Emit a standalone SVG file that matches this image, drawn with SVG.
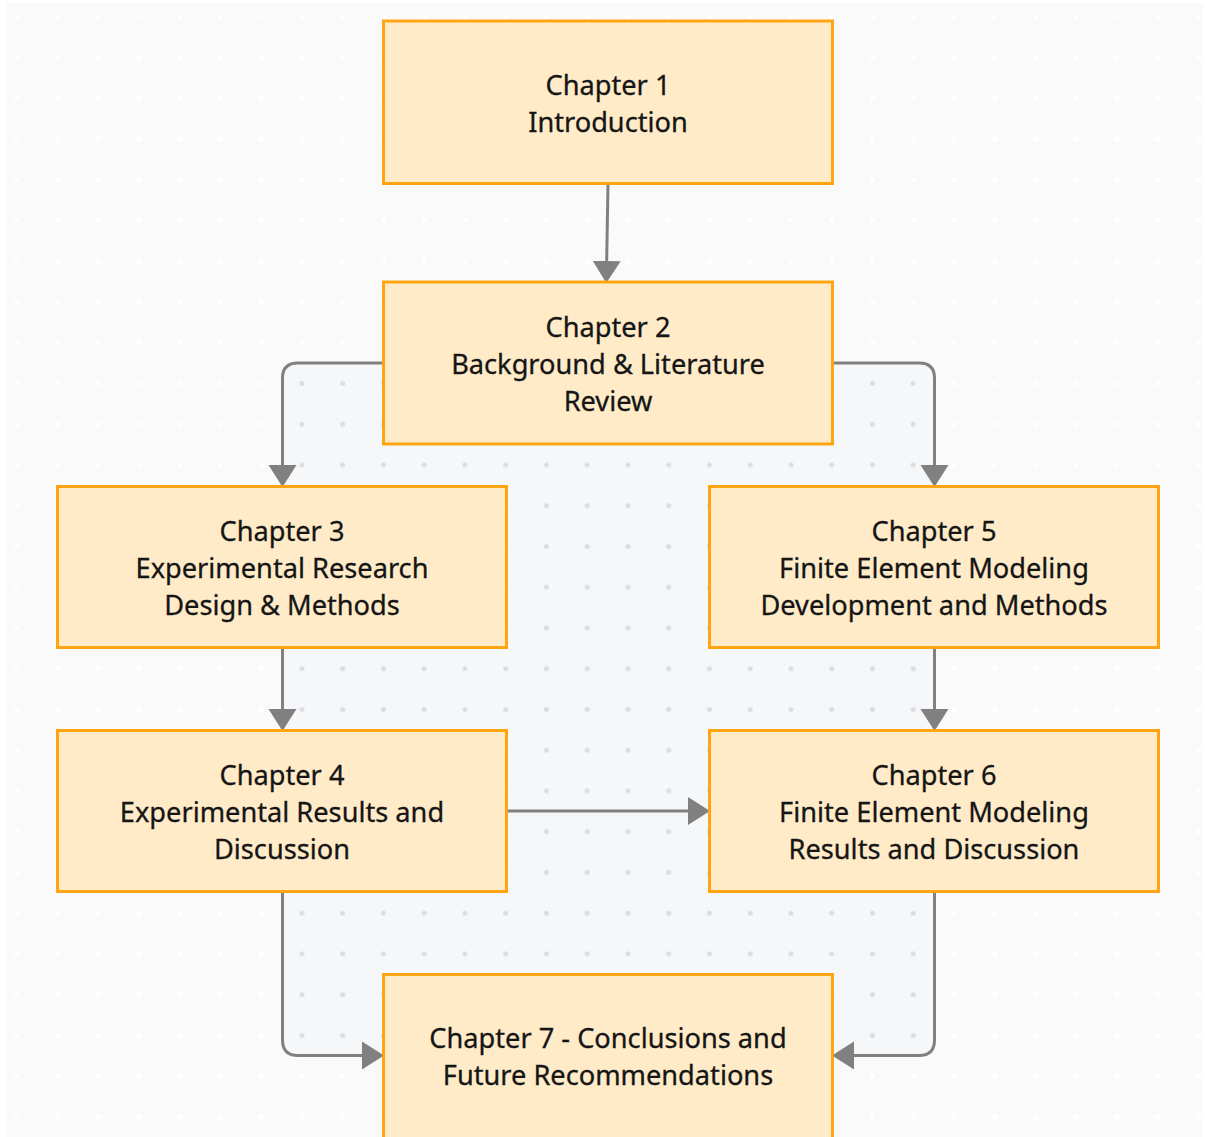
<svg xmlns="http://www.w3.org/2000/svg" width="1206" height="1137" viewBox="0 0 1206 1137">
<defs>
<style>
.node rect{fill:#ffebc8;stroke:#ffa514;stroke-width:3}
.node text{font-family:"Noto Sans","Open Sans",sans-serif;font-size:27.2px;fill:#151515;stroke:#151515;stroke-width:0.3;text-anchor:middle}
.edge{fill:none;stroke:#808080;stroke-width:3;marker-end:url(#arrow)}
</style>
<pattern id="dotsOuter" patternUnits="userSpaceOnUse" x="-3.675" y="-3.675" width="40.75" height="40.75">
<circle cx="20.375" cy="20.375" r="2.5" fill="#ffffff"/>
</pattern>
<pattern id="dotsInner" patternUnits="userSpaceOnUse" x="-3.675" y="-3.675" width="40.75" height="40.75">
<circle cx="20.375" cy="20.375" r="2.5" fill="#dcdde1"/>
</pattern>
<marker id="arrow" markerUnits="userSpaceOnUse" markerWidth="24" markerHeight="30" refX="10" refY="14" orient="auto">
<path d="M0,0 L22,14 L0,28 z" fill="#808080"/>
</marker>
</defs>
<rect x="0" y="0" width="1206" height="1137" fill="#ffffff"/>
<rect x="6" y="3" width="1197" height="1134" fill="#fafafa"/>
<rect x="6" y="3" width="1197" height="1134" fill="url(#dotsOuter)"/>
<g id="inner-area">
<rect x="282" y="362" width="653" height="694" rx="15" fill="#f6f7f9"/>
<rect x="282" y="362" width="653" height="694" rx="15" fill="url(#dotsInner)"/>
</g>
<g id="connectors">
<path class="edge" d="M608,184 L606.5,271"/>
<path class="edge" d="M383,363 L298,363 Q282.5,363 282.5,378 L282.5,475"/>
<path class="edge" d="M833,363 L919,363 Q934.5,363 934.5,378 L934.5,475"/>
<path class="edge" d="M282.5,648 L282.5,719"/>
<path class="edge" d="M934.5,648 L934.5,719"/>
<path class="edge" d="M507,811 L698,811"/>
<path class="edge" d="M282.5,892 L282.5,1040 Q282.5,1055.5 298,1055.5 L372,1055.5"/>
<path class="edge" d="M934.5,892 L934.5,1040 Q934.5,1055.5 919,1055.5 L844,1055.5"/>
</g>
<g id="ch1" class="node">
<rect x="383.5" y="21" width="449" height="162.5"/>
<text x="608" y="95">Chapter 1</text>
<text x="608" y="131.5">Introduction</text>
</g>
<g id="ch2" class="node">
<rect x="383.5" y="282" width="449" height="162"/>
<text x="608" y="337">Chapter 2</text>
<text x="608" y="374">Background &amp; Literature</text>
<text x="608" y="411">Review</text>
</g>
<g id="ch3" class="node">
<rect x="57.5" y="486.5" width="449" height="161"/>
<text x="282" y="541">Chapter 3</text>
<text x="282" y="578">Experimental Research</text>
<text x="282" y="615">Design &amp; Methods</text>
</g>
<g id="ch5" class="node">
<rect x="709.5" y="486.5" width="449" height="161"/>
<text x="934" y="541">Chapter 5</text>
<text x="934" y="578">Finite Element Modeling</text>
<text x="934" y="615">Development and Methods</text>
</g>
<g id="ch4" class="node">
<rect x="57.5" y="730.5" width="449" height="161"/>
<text x="282" y="785">Chapter 4</text>
<text x="282" y="822">Experimental Results and</text>
<text x="282" y="859">Discussion</text>
</g>
<g id="ch6" class="node">
<rect x="709.5" y="730.5" width="449" height="161"/>
<text x="934" y="785">Chapter 6</text>
<text x="934" y="822">Finite Element Modeling</text>
<text x="934" y="859">Results and Discussion</text>
</g>
<g id="ch7" class="node">
<rect x="383.5" y="974.5" width="449" height="175"/>
<text x="608" y="1048">Chapter 7 - Conclusions and</text>
<text x="608" y="1085">Future Recommendations</text>
</g>
</svg>
